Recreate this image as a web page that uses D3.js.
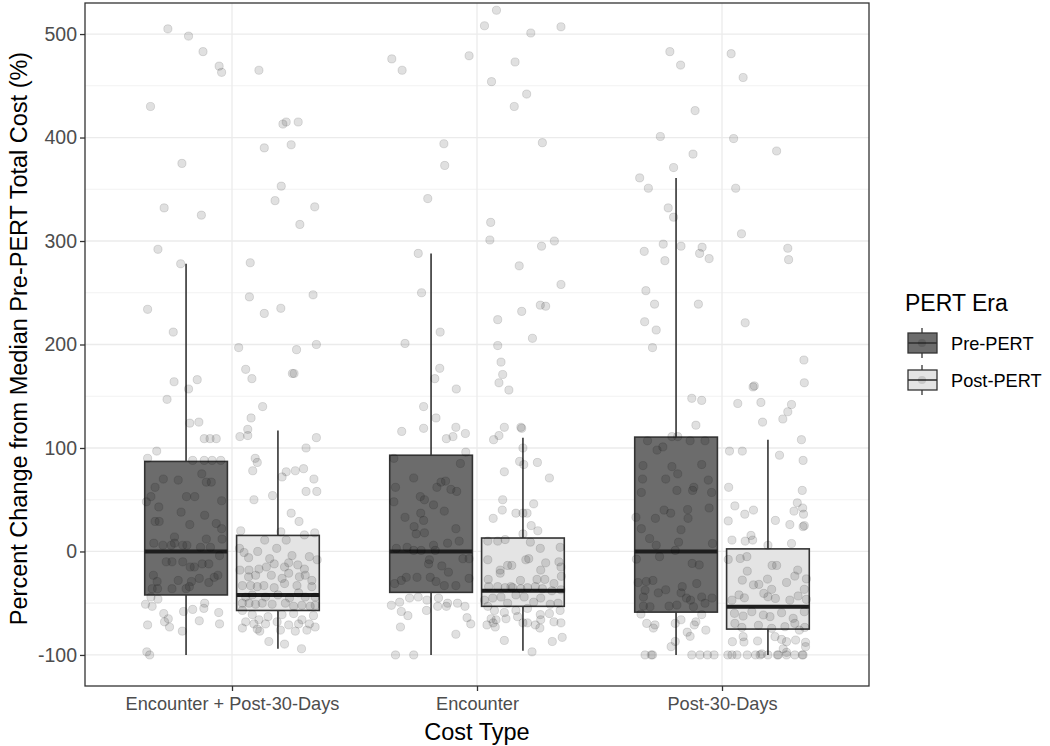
<!DOCTYPE html>
<html>
<head>
<meta charset="utf-8">
<script src="https://cdn.jsdelivr.net/npm/d3@7"></script>
<style>
body { margin: 0; background: #fff; }
text { font-family: "Liberation Sans", Arial, sans-serif; }
</style>
</head>
<body>
<div id="main_div"></div>
<script>
var categories = ["Encounter + Post-30-Days", "Encounter", "Post-30-Days"];
var eras = ["Pre-PERT", "Post-PERT"];
var yTicks = [-100, 0, 100, 200, 300, 400, 500];
var yMinor = [-50, 50, 150, 250, 350, 450];

// [lower whisker, q1, median, q3, upper whisker]
var box_enc_post_pre  = [-100, -42, 0, 87, 278];
var box_enc_post_post = [-94, -57, -42, 15.5, 117];
var box_enc_pre  = [-100, -39.5, 0, 93, 288];
var box_enc_post = [-96, -53, -38, 13, 110];
var box_p30_pre  = [-100, -58.6, 0, 110.5, 361];
var box_p30_post = [-100, -75, -53.5, 2.5, 108];

// points: [jitter (fraction of half box), percent change]
var pts_enc_post_pre = [[-0.44,505],[0.06,498],[0.41,483],[0.8,469],[0.86,463],[-0.86,430],[-0.1,375],[-0.53,332],[0.37,325],[-0.68,292],[-0.13,278],[-0.93,234],[-0.31,212],
[-0.29,164],[0.27,166],[0.06,157],[-0.46,147],[0.09,124],[0.31,125],[0.44,109],[0.58,109],[0.73,109],[-0.71,97],[-0.93,90],[0.16,88],[0.44,88],[0.63,88],[0.84,88],
[-0.55,70],[-0.19,69],[0.38,75],[0.49,67],[0.61,67],[-0.75,62],[-0.85,53],[0.01,53],[0.21,53],[-0.96,48],[0.86,49],[-0.66,43],[-0.12,38],[0.45,35],[-0.75,29],[-0.65,29],[0.09,26],[0.73,27],[0.86,22],[0.87,12],[0.49,12],[-0.78,8],[-0.28,14],[-0.28,8],[-0.56,6],[-0.36,6],[-0.08,6],[0.02,6],[0.35,4],[0.59,4],[-0.48,-10],[-0.34,-10],[-0.08,-10],[0.1,-15],[0.2,-15],[0.39,-12],[0.55,-12],[0.81,-4],[-0.79,-23],[-0.7,-29],[-0.19,-28],[0.13,-29],[0.08,-34],[0.32,-26],[0.55,-30],[0.68,-25],[0.77,-23],[-0.82,-36],[-0.69,-36],[-0.34,-36],[0,-36],
[-0.98,-51],[-0.82,-53],[-0.85,-44],[-0.68,-46],[-0.54,-60],[-0.52,-68],[-0.43,-65],[-0.4,-73],[-0.06,-58],[-0.09,-77],[0.16,-56],[0.43,-55],[0.45,-50],[0.32,-67],[0.79,-59],[0.81,-70],[-0.93,-71],[-0.95,-97],[-0.88,-100]];

var pts_enc_post_post = [[-0.46,465],[0.12,413],[0.2,415],[0.49,415],[-0.33,390],[0.32,393],[0.08,353],[-0.07,339],[0.89,333],[0.53,316],[-0.67,279],[-0.69,246],[0.85,248],[-0.33,230],[0.07,235],[-0.95,197],[0.45,195],[0.93,200],
[-0.78,176],[-0.63,167],[0.35,172],[0.39,172],[-0.37,140],[-0.65,129],[-0.73,118],[-0.73,112],[-0.92,111],[0.93,110],[0.68,100],[-0.55,90],[-0.5,86],[-0.61,78],[0.1,72],[0.2,77],[0.42,78],[0.62,80],[0.87,70],[0.68,58],[0.94,58],[-0.13,54],[-0.58,50],[0.32,37],[0.51,29],[0.89,18],[0.64,16],[0.07,19],[-0.9,20],
[-0.32,11],[0.2,11],[-0.93,3],[-0.82,-1],[-0.49,0],[-0.03,3],[-0.71,-6],[0.34,-4],[0.76,-5],[0.95,-8],
[-0.2,-7],[-0.28,-15],[-0.09,-12],[0.16,-15],[0.26,-11],[0.48,-13],[0.64,-17],[-0.92,-18],[-0.7,-18],[-0.46,-17],
[-0.71,-24.5],[-0.54,-23],[-0.16,-23],[0.1,-26],[0.26,-21],[0.52,-24.5],[0.66,-23],[0.82,-28],
[-0.86,-33],[-0.66,-33],[-0.5,-34],[-0.34,-33],[-0.09,-35],[0.16,-31],[0.46,-33],[0.82,-34],
[-0.78,-44],[-0.62,-42],[-0.3,-44],[0,-42],[0.28,-45],[0.5,-40],[0.66,-44],[0.9,-44],
[-0.86,-50],[-0.7,-50],[-0.54,-51],[-0.38,-50],[-0.14,-51],[0.18,-50],[0.38,-53],[0.58,-52],[0.78,-53],[0.9,-52],
[-0.86,-57],[-0.62,-61],[-0.46,-66],[-0.24,-63],[0.1,-61],[0.38,-60],[0.58,-66],[0.86,-62],
[-0.78,-68],[-0.58,-70],[-0.3,-70],[-0.02,-68],[0.26,-71],[0.5,-70],[0.76,-70],[0.9,-73],
[-0.86,-74],[-0.5,-75],[-0.44,-77],[0.06,-76],[0.42,-77],[0.7,-76],
[-0.22,-87],[0.16,-89.5],[0.57,-94]];

var pts_enc_pre = [[-0.95,476],[-0.7,465],[0.92,479],[0.31,394],[0.33,373],[-0.08,341],[-0.31,288],[-0.23,250],[0.22,212],[-0.63,201],
[0.21,177],[0.09,167],[0.61,157],[-0.18,140],[0.12,129],[-0.71,116],[-0.18,119],[0.37,109],[0.53,111],[0.6,120],[0.83,114],[0.84,96],[-0.9,90],[0.71,85],[-0.42,71],[0.14,62],[0.24,67],[0.35,68],[0.48,60],[0.62,58],[-0.9,48],[-0.86,62],[-0.26,53],[-0.16,50],[0.06,45],[0.32,39],[-0.63,33],[-0.25,37],[-0.18,30],[-0.41,24],[-0.36,17],[-0.16,18],[0.6,22],[0.68,10],
[-0.84,3],[-0.58,4],[-0.42,1],[-0.24,1],[0.06,6],[0.1,1],[0.4,8],
[-0.04,-8],[-0.06,-12],[0.26,-14],[0.42,-20],[0.77,-7],[0.92,-7],
[-0.88,-31],[-0.72,-28],[-0.6,-25],[-0.34,-25],[-0.02,-25],[0.12,-29],[0.32,-33],[0.6,-33],[0.92,-26],
[-0.96,-52],[-0.76,-49],[-0.52,-45],[-0.31,-44],[-0.1,-47],[0.18,-45],[0.4,-50],[0.64,-50],[0.82,-53],
[-0.72,-58],[-0.56,-62],[-0.11,-57],[0.16,-53],[0.37,-53],[0.87,-64],[0.96,-70],
[-0.74,-73],[0.6,-80],[-0.86,-100],[-0.42,-100]];

var pts_enc_post = [[-0.64,523],[-0.93,508],[0.19,501],[0.92,507],[-0.19,473],[-0.76,454],[0.09,442],[-0.21,430],[0.47,395],[-0.78,318],[-0.8,301],[0.45,295],[0.76,300],[-0.09,276],[0.92,258],[-0.03,232],[0.42,238],[0.55,237],[-0.61,224],[0.23,206],[-0.61,199],
[-0.53,183],[-0.49,171],[-0.58,163],[-0.34,156],[-0.45,120],[-0.58,112],[-0.71,108],[-0.05,120],[-0.03,119],[0,100],[-0.08,87],[0.02,84],[0.35,86],[-0.45,77],[0.64,71],[-0.49,50],[-0.5,40],[-0.72,32],[-0.17,37],[0,37],[0.1,37],[0.26,46],[0.2,25],[0.36,20],[0,17],
[-0.85,10],[-0.61,10],[-0.43,11.5],[0.18,9],[0.42,3],[0.9,4],
[-0.85,-8],[-0.55,-18],[-0.37,-13.5],[-0.27,-13.5],[0.07,-8],[0.14,-7],[0.43,-18],[0.55,-11],[0.87,-10],[0.92,-15],
[-0.84,-27],[-0.55,-21],[-0.29,-34],[-0.06,-28],[0.34,-27],[0.53,-27],[0.75,-31],[0.93,-24],
[-0.83,-34],[-0.61,-34],[-0.43,-35],[-0.25,-35],[-0.05,-36],[0.11,-35],[0.3,-34],[0.47,-36],[0.7,-38],[0.92,-37],
[-0.93,-47],[-0.73,-45],[-0.53,-44],[-0.37,-50],[-0.17,-42],[0.03,-44],[0.26,-49],[0.43,-45],[0.66,-51],[0.85,-50],
[-0.85,-53],[-0.69,-57],[-0.45,-59],[-0.17,-57],[0.11,-55],[0.42,-61],[0.64,-60],[0.9,-57],
[-0.77,-65],[-0.65,-66],[-0.41,-65],[-0.13,-63],[0.11,-69],[0.43,-66],[0.75,-68],[0.92,-69],
[-0.87,-71],[-0.72,-69],[-0.67,-73],[0,-69],[0.3,-71],[0.41,-74],
[-0.45,-86],[0.71,-87],[0.95,-83],[0.22,-97]];

var pts_p30_pre = [[-0.15,483],[0.11,470],[0.46,426],[-0.38,401],[0.41,384],[-0.06,371],[-0.88,361],[-0.67,351],[-0.19,332],[-0.06,323],[-0.77,290],[-0.31,297],[0.12,295],[-0.27,281],[0.57,288],[0.63,294],[0.8,283],[-0.73,252],[-0.52,239],[0.54,239],[-0.76,222],[-0.48,214],[-0.57,197],
[0.38,148],[0.62,146],[0.48,122],[0.04,111],[-0.1,111],
[-0.69,107],[-0.46,98],[-0.32,101],[0.34,107],[0.7,107],[-0.8,83],[-0.1,82],[0.04,75],[-0.25,70],[0.62,84],[0.78,69],[-0.81,70],[-0.84,57],[0.02,59],[0.4,59],[0.43,62],[0.86,57],[0.8,42],
[-0.97,33],[-0.84,22],[-0.5,32],[-0.29,40],[-0.13,37],[0.28,40.5],[0.29,32],[0.12,21],[-0.64,12.5],[-0.48,6],[-0.02,1],[0.06,9],[0.88,7.7],
[-0.96,-7.4],[-0.4,-5],[0.39,-11.6],[0.56,-13],[-0.92,-30],[-0.72,-29],[-0.56,-28],[-0.25,-37],[0.15,-34],[0.5,-31],[0.62,-44],[0.87,-45],
[-0.75,-37.5],[-0.79,-44],[-0.43,-40],[0.12,-40],[0.25,-45],[0.35,-47],[-0.79,-52.8],[-0.63,-53.4],[-0.17,-52.8],[0.02,-51.8],[0.42,-53.4],[0.7,-50],
[-0.85,-60.5],[-0.71,-69.5],[-0.51,-71],[-0.55,-74],[-0.02,-69.5],[0.12,-66],[0.48,-68],[0.44,-71],[0.62,-61],[0.72,-76],[0.34,-82],[0.27,-78],[-0.02,-87],[-0.12,-92],
[-0.75,-100],[-0.6,-100],[-0.57,-100],[0.38,-100],[0.58,-100],[0.76,-100],[0.92,-100]];

var pts_p30_post = [[-0.89,481],[-0.6,458],[-0.83,399],[0.21,387],[-0.78,351],[-0.64,307],[0.48,293],[0.5,282],[-0.55,221],
[0.87,185],[0.88,163],[-0.36,159],[-0.33,160],[-0.73,143],[-0.17,144],[0.57,142],[0.48,135],[0.36,128],[-0.13,125],[0.81,108],[0.28,93],[0.85,88],[-0.93,97],[-0.62,97],[-0.95,62],[0.83,59],
[-0.8,44],[-0.56,36],[-0.35,40],[0.18,30],[0.71,47],[0.84,42],[0.86,36],[0.63,39],[0.53,26],[0.85,24],[0.88,25],[-0.96,29.5],[-0.87,11],[-0.55,10],[-0.37,11],[-0.41,15.5],[0.57,7.7],[0,6],
[-0.96,-7.7],[-0.67,-6.8],[-0.51,-5],[0.1,-13.5],[0.21,-13.5],[0.72,-18],[0.93,-26.5],
[-0.62,-27.7],[-0.5,-19],[-0.35,-32.3],[-0.22,-31.8],[-0.01,-26.7],[0.09,-36.6],[0.45,-30],[0.65,-23.8],[0.88,-36.6],
[-0.87,-47],[-0.7,-42],[-0.57,-44.8],[-0.1,-40.5],[0,-43.8],[0.18,-45.4],[0.53,-47],[0.73,-43],[0.93,-46.3],
[-0.81,-59.8],[-0.6,-62.4],[-0.39,-58.2],[-0.11,-61.4],[0.05,-63],[0.33,-59.2],[0.61,-64.6],[0.88,-58.2],
[-0.8,-69.5],[-0.63,-73.4],[-0.23,-71.4],[0.09,-74.3],[0.41,-72.7],[0.65,-69.5],[0.76,-76],[0.89,-73.4],
[-0.6,-82.3],[-0.86,-87.2],[-0.58,-87.5],[-0.25,-86.5],[0.17,-82.3],[0.33,-85],[0.45,-87.2],[0.67,-85.6],[0.91,-87.8],
[0.37,-94],[0.45,-97.5],[0.91,-92],
[-0.97,-100],[-0.87,-100],[-0.75,-100],[-0.5,-100],[-0.3,-100],[-0.19,-100],[-0.15,-99],[0,-100],[0.23,-100],[0.25,-100],[0.45,-100],[0.65,-100],[0.85,-100],[0.83,-100]];

var groups = [
    {cat: categories[0], era: eras[0], box: box_enc_post_pre, pts: pts_enc_post_pre},
    {cat: categories[0], era: eras[1], box: box_enc_post_post, pts: pts_enc_post_post},
    {cat: categories[1], era: eras[0], box: box_enc_pre, pts: pts_enc_pre},
    {cat: categories[1], era: eras[1], box: box_enc_post, pts: pts_enc_post},
    {cat: categories[2], era: eras[0], box: box_p30_pre, pts: pts_p30_pre},
    {cat: categories[2], era: eras[1], box: box_p30_post, pts: pts_p30_post}
];

var pLeft = 85, pRight = 869, pTop = 3, pBottom = 686;

var x_scale = d3.scalePoint().domain(categories).range([pLeft, pRight]).padding(0.6);
var step = x_scale.step();
var dodge = d3.scaleBand().domain(eras).range([-step * 0.375, step * 0.375]);
var boxW = dodge.bandwidth() * 0.9;
var y_scale = d3.scaleLinear().domain([-130, 530]).range([pBottom, pTop]);
var fillScale = d3.scaleOrdinal().domain(eras).range(["#6c6c6c", "#e4e4e4"]);

function centerX(g) {
    return x_scale(g.cat) + dodge(g.era) + dodge.bandwidth() / 2;
}

var svg = d3.select("#main_div").append("svg").attr("width", 1050).attr("height", 746);

svg.append("defs").append("clipPath").attr("id", "panel_clip")
    .append("rect").attr("x", pLeft).attr("y", pTop).attr("width", pRight - pLeft).attr("height", pBottom - pTop);

// grid
var grid = svg.append("g");
grid.selectAll(".minor").data(yMinor).enter().append("line")
    .attr("x1", pLeft).attr("x2", pRight)
    .attr("y1", function(d) { return y_scale(d); }).attr("y2", function(d) { return y_scale(d); })
    .attr("stroke", "#f2f2f2").attr("stroke-width", 1);
grid.selectAll(".major").data(yTicks).enter().append("line")
    .attr("x1", pLeft).attr("x2", pRight)
    .attr("y1", function(d) { return y_scale(d); }).attr("y2", function(d) { return y_scale(d); })
    .attr("stroke", "#ebebeb").attr("stroke-width", 1.3);
grid.selectAll(".vert").data(categories).enter().append("line")
    .attr("x1", function(d) { return x_scale(d); }).attr("x2", function(d) { return x_scale(d); })
    .attr("y1", pTop).attr("y2", pBottom)
    .attr("stroke", "#ebebeb").attr("stroke-width", 1.3);

// boxes
var boxes = svg.append("g").selectAll("g").data(groups).enter().append("g");
boxes.append("line")
    .attr("x1", centerX).attr("x2", centerX)
    .attr("y1", function(d) { return y_scale(d.box[4]); })
    .attr("y2", function(d) { return y_scale(d.box[3]); })
    .attr("stroke", "#333").attr("stroke-width", 1.6);
boxes.append("line")
    .attr("x1", centerX).attr("x2", centerX)
    .attr("y1", function(d) { return y_scale(d.box[1]); })
    .attr("y2", function(d) { return y_scale(d.box[0]); })
    .attr("stroke", "#333").attr("stroke-width", 1.6);
boxes.append("rect")
    .attr("x", function(d) { return centerX(d) - boxW / 2; })
    .attr("width", boxW)
    .attr("y", function(d) { return y_scale(d.box[3]); })
    .attr("height", function(d) { return y_scale(d.box[1]) - y_scale(d.box[3]); })
    .attr("fill", function(d) { return fillScale(d.era); })
    .attr("stroke", "#333").attr("stroke-width", 1.6);
boxes.append("line")
    .attr("x1", function(d) { return centerX(d) - boxW / 2; })
    .attr("x2", function(d) { return centerX(d) + boxW / 2; })
    .attr("y1", function(d) { return y_scale(d.box[2]); })
    .attr("y2", function(d) { return y_scale(d.box[2]); })
    .attr("stroke", "#1e1e1e").attr("stroke-width", 4);

// jittered points
var pts = svg.append("g").attr("clip-path", "url(#panel_clip)");
groups.forEach(function(g) {
    var cx = centerX(g);
    var enter_p = pts.append("g").selectAll("circle").data(g.pts).enter().append("circle");
    enter_p.attr("cx", function(d) { return cx + d[0] * boxW / 2; });
    enter_p.attr("cy", function(d) { return y_scale(d[1]); });
    enter_p.attr("r", 4.1);
    enter_p.attr("fill", "#000").attr("fill-opacity", 0.12);
    enter_p.attr("stroke", "#000").attr("stroke-opacity", 0.12).attr("stroke-width", 1);
});

// panel border
svg.append("rect").attr("x", pLeft).attr("y", pTop).attr("width", pRight - pLeft).attr("height", pBottom - pTop)
    .attr("fill", "none").attr("stroke", "#333").attr("stroke-width", 1.3);

// axes
var g_y = svg.append("g").attr("transform", "translate(" + pLeft + ",0)")
    .call(d3.axisLeft(y_scale).tickValues(yTicks).tickSize(5).tickPadding(3)
        .tickFormat(function(d) { return String(d); }));
var g_x = svg.append("g").attr("transform", "translate(0," + pBottom + ")")
    .call(d3.axisBottom(x_scale).tickSize(5).tickPadding(6));
[g_y, g_x].forEach(function(g) {
    g.select(".domain").remove();
    g.selectAll(".tick line").attr("stroke", "#333").attr("stroke-width", 1.3);
    g.selectAll(".tick text").attr("fill", "#4d4d4d").style("font-size", "18.2px")
        .style("font-family", "'Liberation Sans', Arial, sans-serif");
});
g_y.selectAll(".tick text").style("font-size", "19.5px");

svg.append("text").attr("x", x_scale(categories[1])).attr("y", 740)
    .attr("text-anchor", "middle").style("font-size", "23.5px").attr("fill", "#000")
    .text("Cost Type");
svg.append("text").attr("transform", "translate(27," + ((pTop + pBottom) / 2 - 6) + ") rotate(-90)")
    .attr("text-anchor", "middle").style("font-size", "23.5px").attr("fill", "#000")
    .text("Percent Change from Median Pre-PERT Total Cost (%)");

// legend
var legend = svg.append("g").attr("transform", "translate(905,0)");
legend.append("text").attr("x", 0).attr("y", 311).style("font-size", "23px").attr("fill", "#000").text("PERT Era");
var key = legend.selectAll(".key").data(eras).enter().append("g")
    .attr("transform", function(d, i) { return "translate(0," + (328 + i * 37) + ")"; });
key.append("line").attr("x1", 17).attr("x2", 17).attr("y1", 0).attr("y2", 30)
    .attr("stroke", "#333").attr("stroke-width", 1.3);
key.append("rect").attr("x", 3).attr("y", 5).attr("width", 29).attr("height", 20)
    .attr("fill", function(d) { return fillScale(d); }).attr("stroke", "#333").attr("stroke-width", 1.3);
key.append("line").attr("x1", 3).attr("x2", 32).attr("y1", 15).attr("y2", 15)
    .attr("stroke", "#333").attr("stroke-width", 1.6);
key.append("circle").attr("cx", 17).attr("cy", 15).attr("r", 4.1)
    .attr("fill", "#000").attr("fill-opacity", 0.12);
key.append("text").attr("x", 46).attr("y", 22).style("font-size", "18.2px").attr("fill", "#000")
    .text(function(d) { return d; });
</script>
</body>
</html>
